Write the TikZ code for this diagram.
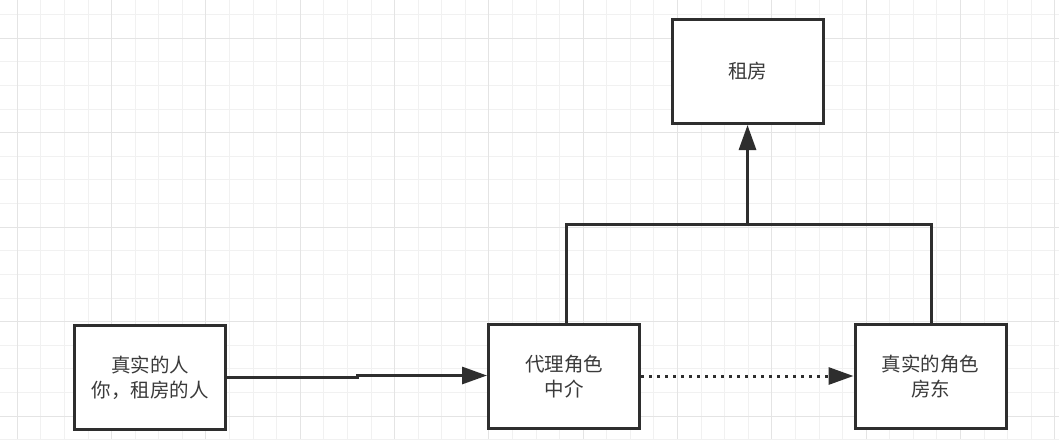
\documentclass[tikz,border=0pt]{standalone}
\usepackage{fontspec}
\setmainfont{Noto Sans CJK SC}
\usetikzlibrary{arrows.meta}
\definecolor{gridminor}{HTML}{F1F1F1}
\definecolor{gridmajor}{HTML}{E4E4E4}
\definecolor{ink}{HTML}{2E2E2E}
\definecolor{txt}{HTML}{3A3A3A}
\tikzset{
  box/.style={draw=ink, line width=3pt, fill=white, inner sep=0pt,
    minimum width=151pt, minimum height=104pt, align=center,
    font=\fontsize{19.5}{25}\selectfont, text=txt},
  conn/.style={draw=ink, line width=3pt},
  tip/.style={-{Triangle[length=25pt,width=17pt]}},
  dotline/.style={draw=ink, line width=3pt, dash pattern=on 3pt off 5pt},
}
\begin{document}
\begin{tikzpicture}[x=1pt,y=-1pt]
\useasboundingbox (0,0) rectangle (1059,439);
\fill[white] (0,0) rectangle (1059,439);
% grid
\foreach \i in {0,...,44} {
  \pgfmathsetmacro{\gx}{17.3+23.58*(\i-0)}
  \draw[gridminor, line width=1pt] (\gx,0) -- (\gx,439);
}
\foreach \i in {0,...,18} {
  \pgfmathsetmacro{\gy}{14.6+23.62*\i}
  \draw[gridminor, line width=1pt] (0,\gy) -- (1059,\gy);
}
\foreach \i in {0,...,11} {
  \pgfmathsetmacro{\gx}{17.3+94.32*\i}
  \draw[gridmajor, line width=1pt] (\gx,0) -- (\gx,439);
}
\foreach \i in {0,...,4} {
  \pgfmathsetmacro{\gy}{38.3+94.5*\i}
  \draw[gridmajor, line width=1pt] (0,\gy) -- (1059,\gy);
}
% nodes
\node[box] (real) at (150,377.5) {真实的人\\你，租房的人};
\node[box] (proxy) at (564,376.5) {代理角色\\中介};
\node[box] (owner) at (930.5,376.5) {真实的角色\\房东};
\node[box] (rent) at (747.5,71.5) {租房};
% connectors
\coordinate (j1) at (357,377.5);
\coordinate (j2) at (357,375.5);
\draw[conn, tip] (real.east) -- (j1) -- (j2) -- (j2 -| proxy.west);
\draw[dotline, -{Triangle[length=25pt,width=17pt]}] (proxy.east |- 0,376) -- (owner.west |- 0,376);
\coordinate (pu) at (566,224);
\coordinate (ou) at (931,224);
\coordinate (mid) at (747.5,224);
\draw[conn] (proxy.north -| pu) -- (pu) -- (ou) -- (owner.north -| ou);
\draw[conn, tip] (mid) -- (rent.south);
\end{tikzpicture}
\end{document}
